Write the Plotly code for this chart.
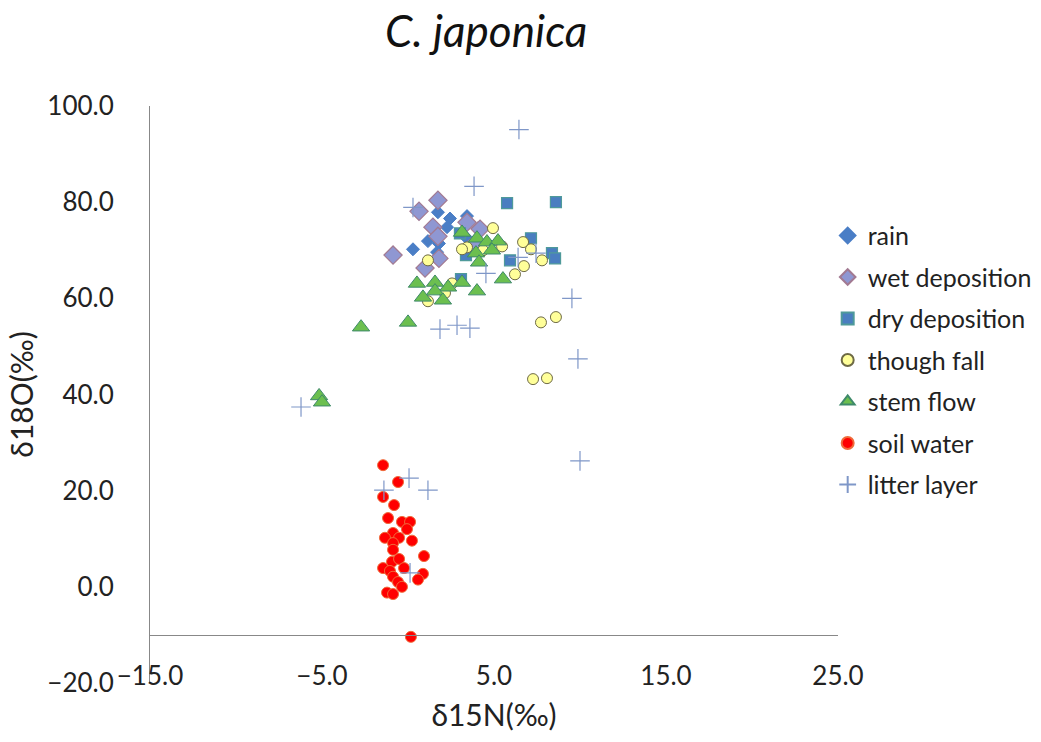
import plotly.graph_objects as go

# ---- data (δ15N, δ18O) ----
rain_x = [1.74, 2.44, 3.43, 2.27, 1.16, 1.80, 0.29, 1.69, 4.07, 3.37]
rain_y = [77.9, 76.6, 77.1, 74.8, 71.9, 71.4, 70.2, 69.6, 74.6, 72.7]

wet_x = [-0.87, 0.64, 1.74, 1.45, 1.74, 0.99, 1.80, 3.43, 4.19, 3.84]
wet_y = [69.0, 78.1, 80.4, 74.8, 72.9, 66.3, 68.3, 75.8, 74.4, 71.2]

dry_x = [5.76, 8.60, 7.15, 8.37, 8.55, 5.93, 3.08, 3.37, 3.02]
dry_y = [79.8, 80.0, 72.5, 69.4, 68.3, 67.9, 64.0, 69.0, 73.5]

fall_x = [4.94, 5.47, 6.69, 7.15, 7.79, 6.74, 6.22, 4.36, 3.43, 3.14, 2.56, 1.16, 1.16, 2.15, 7.73, 8.60, 7.27, 8.08]
fall_y = [74.6, 70.8, 71.7, 70.2, 67.9, 66.7, 65.0, 70.0, 70.6, 70.2, 63.1, 67.9, 59.4, 61.1, 55.0, 56.1, 43.2, 43.4]

stem_x = [3.14, 4.01, 4.59, 5.23, 4.88, 3.95, 4.13, 5.52, 4.01, 3.14, 2.33, 1.57, 1.57, 2.03, 0.52, 0.87, 0.00, -2.73, -5.17, -5.00]
stem_y = [73.7, 72.5, 71.7, 71.9, 70.0, 69.4, 67.5, 64.0, 61.5, 63.3, 62.3, 63.3, 61.5, 59.6, 63.1, 60.2, 55.0, 54.0, 39.7, 38.4]

soil_x = [-1.45, -0.58, -1.45, -0.81, -1.16, -0.35, 0.12, -0.06, -0.87, -1.34, -0.52, 0.23, -0.87, -0.87,
          0.93, -0.93, -0.52, -1.45, -0.23, -1.05, -0.87, 0.87, 0.58, -0.58, -0.35, -1.22, -0.87, 0.17]
soil_y = [25.3, 21.8, 18.7, 17.0, 14.3, 13.5, 13.5, 12.0, 11.2, 10.2, 10.2, 9.6, 9.1, 7.7,
          6.4, 5.2, 5.8, 3.9, 3.9, 3.3, 2.1, 2.7, 1.5, 1.0, 0.0, -1.2, -1.5, -10.4]

litter_x = [6.45, 3.84, 0.29, 4.53, 6.40, 7.44, 9.53, 1.86, 2.85, 3.60, 9.88, -6.22, 10.0, 0.06, -1.40, 1.16, 0.12]
litter_y = [95.1, 83.3, 78.9, 65.2, 68.5, 69.4, 60.0, 53.6, 54.4, 53.8, 47.4, 37.4, 26.2, 22.6, 20.1, 20.1, 2.9]

series = [
    ("rain", rain_x, rain_y, "diamond", 10, "#4A7EC6", "#4A7EC6", 1),
    ("wet deposition", wet_x, wet_y, "diamond", 14, "#8F97D2", "#A27A92", 1.2),
    ("dry deposition", dry_x, dry_y, "square", 11, "#4A7EC0", "#4F9A9A", 1.2),
    ("though fall", fall_x, fall_y, "circle", 11, "#FFFF99", "#6E6A45", 1),
    ("stem flow", stem_x, stem_y, "triangle-up", 15, "#6CBF4F", "#3F8A6A", 1),
    ("soil water", soil_x, soil_y, "circle", 11, "#FF0000", "#F06A3A", 1),
    ("litter layer", litter_x, litter_y, "cross-thin-open", 14, "#7F97C8", "#7F97C8", 1.2),
]

fig = go.Figure()
for i, (name, xs, ys, sym, size, fill, edge, lw) in enumerate(series):
    fig.add_trace(go.Scatter(
        x=xs, y=ys, mode="markers", name=name, legendgroup=f"g{i}",
        marker=dict(symbol=sym, size=size, color=fill, line=dict(color=edge, width=lw)),
    ))

font_family = "Lato, 'Open Sans', sans-serif"
fig.update_layout(
    width=1041, height=742,
    paper_bgcolor="white", plot_bgcolor="white",
    margin=dict(l=150, r=203, t=106, b=59, autoexpand=False),
    font=dict(family=font_family, size=26, color="#222222"),
    title=dict(text="<i>C. japonica</i>", x=0.467, xanchor="center", y=0.958, yanchor="middle",
               font=dict(size=44, color="#111111")),
    legend=dict(x=0.985, xanchor="left", y=0.815, yanchor="top", font=dict(size=25, color="#222222"),
                tracegroupgap=6, itemsizing="constant", bgcolor="rgba(0,0,0,0)"),
    showlegend=True,
)
fig.update_xaxes(
    range=[-15, 25], tick0=-15, dtick=10, tickformat=".1f",
    showgrid=False, zeroline=False, showline=True, linecolor="#888888", linewidth=1,
    anchor="free", position=10 / 120, ticks="", ticklabelstandoff=18,
    title=dict(text="δ15N(‰)", font=dict(size=30), standoff=14),
)
fig.update_yaxes(
    range=[-20, 100], tick0=-20, dtick=20, tickformat=".1f",
    showgrid=False, zeroline=False, showline=True, linecolor="#888888", linewidth=1,
    ticks="", ticklabelstandoff=30,
    title=dict(text="δ18O(‰)", font=dict(size=30), standoff=4),
)

fig.write_html("out.html")
